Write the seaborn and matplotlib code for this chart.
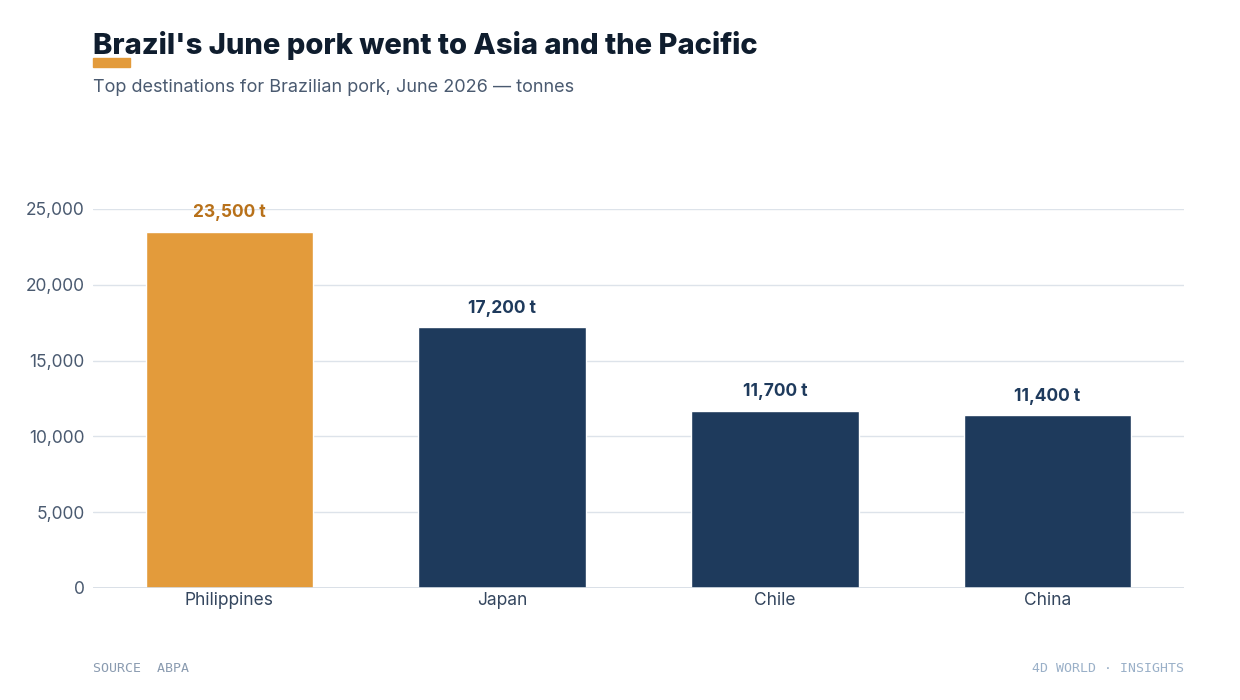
import matplotlib
matplotlib.use("Agg")
import matplotlib.pyplot as plt
import seaborn as sns
import pandas as pd

categories = ["Philippines", "Japan", "Chile", "China"]
values = [23500, 17200, 11700, 11400]
labels = ["23,500 t", "17,200 t", "11,700 t", "11,400 t"]
yticks = [0, 5000, 10000, 15000, 20000, 25000]

sns.set_theme(style="white")
plt.rcParams['font.family'] = ['Inter', 'DejaVu Sans']

df = pd.DataFrame({"dest": categories, "t": values})
colors = ["#E39B3B", "#1E3A5C", "#1E3A5C", "#1E3A5C"]

fig = plt.figure(figsize=(12.4, 7), dpi=100)
ax = fig.add_axes([93/1240, 1-588/700, (1184-93)/1240, (588-209)/700])
sns.barplot(data=df, x="dest", y="t", hue="dest", palette=colors, legend=False,
            width=0.615, saturation=1, ax=ax, edgecolor="white", linewidth=1, zorder=3)
ax.set_ylim(0, 25000)
ax.set_xlim(-0.5, 3.5)
ax.set_yticks(yticks)
ax.set_yticklabels([f"{v:,}" for v in yticks], color="#4A5A70", fontsize=12.5)
ax.tick_params(axis="x", colors="#34465E", labelsize=12.5, length=0, pad=3)
ax.tick_params(axis="y", length=0, pad=6)
ax.grid(axis="y", color="#DDE3EA", linewidth=1, zorder=0)
for s in ax.spines.values():
    s.set_visible(False)
ax.axhline(0, color="#D5DCE4", linewidth=1.2, zorder=4)
ax.set_xlabel("")
ax.set_ylabel("")
for i, (v, l) in enumerate(zip(values, labels)):
    ax.text(i, v + 700, l, ha="center", va="bottom", fontsize=12.5, fontweight="bold",
            color="#B8711A" if i == 0 else "#1E3A5C", clip_on=False)

fig.text(93/1240, 1-45/700, "Brazil's June pork went to Asia and the Pacific",
         fontsize=21, fontweight="heavy", color="#0F1D2E", va="center")
fig.patches.append(plt.Rectangle((93/1240, 1-67/700), 37/1240, 9/700,
                                 transform=fig.transFigure, color="#E39B3B"))
fig.text(93/1240, 1-88/700, "Top destinations for Brazilian pork, June 2026 — tonnes",
         fontsize=13, color="#4A5A70", va="center")
fig.text(93/1240, 1-668/700, "SOURCE  ABPA", fontsize=9.5, family="DejaVu Sans Mono",
         color="#8A9BB0", va="center")
fig.text(1184/1240, 1-668/700, "4D WORLD · INSIGHTS", fontsize=9.5, family="DejaVu Sans Mono",
         color="#9AB0C8", va="center", ha="right")
fig.savefig("out.png", dpi=100)
